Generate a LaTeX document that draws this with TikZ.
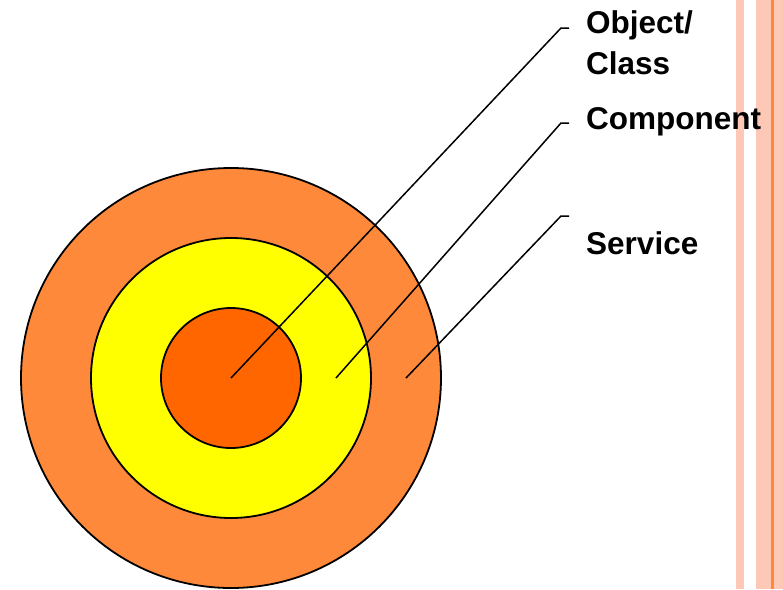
\documentclass[tikz,border=0pt]{standalone}
\usepackage{fontspec}
\setmainfont{Liberation Sans}
\definecolor{ringorange}{RGB}{255,137,58}
\definecolor{coreorange}{RGB}{255,102,0}
\definecolor{ringyellow}{RGB}{255,255,0}
\definecolor{stripe}{RGB}{253,200,182}
\definecolor{stripeline}{RGB}{255,136,51}
\begin{document}
\begin{tikzpicture}[
	  x=1pt, y=-1pt,
	  ring/.style={circle, draw=black, line width=1.8pt, inner sep=0pt},
	  tag/.style={font=\fontsize{31.5}{41}\selectfont\bfseries, anchor=base west, align=left, inner sep=0pt},
	  leader/.style={draw=black, line width=1.5pt},
	  band/.style={fill=stripe, draw=none}]
	  \useasboundingbox (0,0) rectangle (783,589);
	  \fill[band] (736,0) rectangle (744,589);
	  \fill[band] (756,0) rectangle (783,589);
	  \fill[stripeline] (771,0) rectangle (773.5,589);
	  \node[ring, fill=ringorange, minimum size=420pt] (service) at (231,378) {};
	  \node[ring, fill=ringyellow, minimum size=280pt] (component) at (231,378) {};
	  \node[ring, fill=coreorange, minimum size=140pt] (object) at (231,378) {};
	  \coordinate (objdot) at (object.center);
	  \coordinate (compdot) at (336,378);
	  \coordinate (servdot) at (406,378);
	  \coordinate (objbend) at (561,28);
	  \coordinate (compbend) at (561,123);
	  \coordinate (servbend) at (561,216);
	  \draw[leader] (objdot) -- (objbend) -- ++(8,0);
	  \draw[leader] (compdot) -- (compbend) -- ++(8,0);
	  \draw[leader] (servdot) -- (servbend) -- ++(8,0);
	  \node[tag] (objtxt) at (586,74) {Object/\\Class};
	  \node[tag] (comptxt) at (586,129) {Component};
	  \node[tag] (servtxt) at (586,254) {Service};
	\end{tikzpicture}
\end{document}
